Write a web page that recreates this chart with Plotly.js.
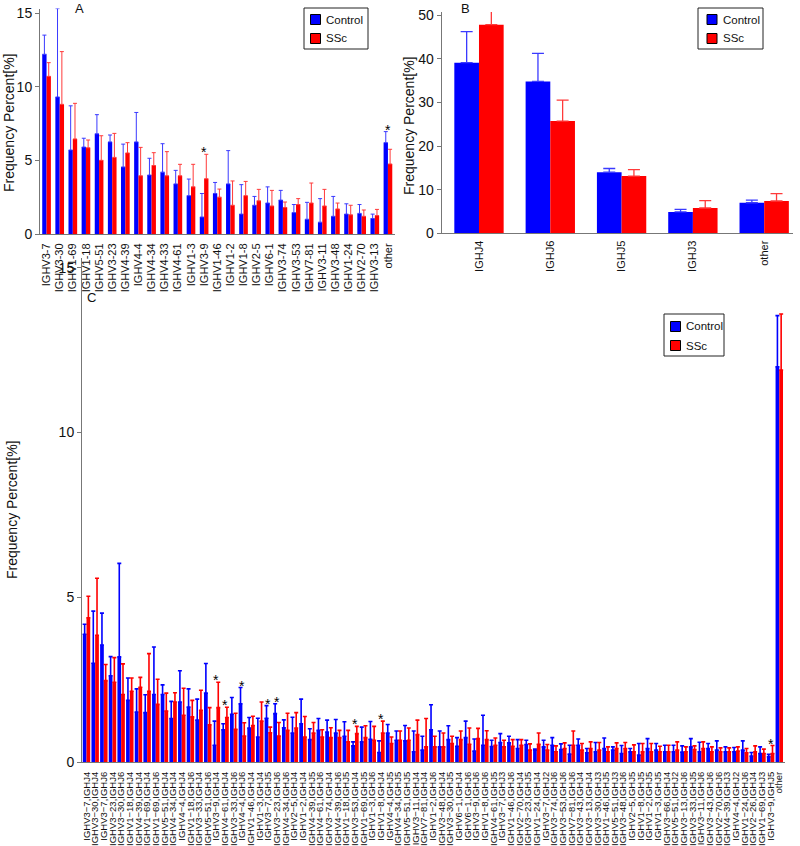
<!DOCTYPE html>
<html><head><meta charset="utf-8">
<script src="https://cdn.plot.ly/plotly-3.0.1.min.js"></script>
<style>html,body{margin:0;padding:0;background:#fff}#chart{width:800px;height:846px}</style>
</head><body><div id="chart"></div>
<script>
// ---------- Panel A: IGHV usage ----------
const catsA = ['IGHV3-7','IGHV3-30','IGHV1-69','IGHV1-18','IGHV5-51','IGHV3-23','IGHV4-39','IGHV4-4','IGHV4-34','IGHV4-33','IGHV4-61','IGHV1-3','IGHV3-9','IGHV1-46','IGHV1-2','IGHV1-8','IGHV2-5','IGHV6-1','IGHV3-74','IGHV3-53','IGHV7-81','IGHV3-11','IGHV3-48','IGHV1-24','IGHV2-70','IGHV3-13','other'];
const ctrlA = [12.2,9.3,5.7,5.9,6.8,6.25,4.55,6.25,4.0,4.2,3.4,2.6,1.15,2.75,3.4,1.35,1.95,2.1,2.3,1.45,1.0,0.8,1.2,1.35,1.4,1.05,6.2];
const ctrlAerr = [1.3,6.0,3.0,0.6,1.3,0.47,1.55,2.0,1.14,1.93,0.92,1.13,1.6,0.75,2.26,2.0,0.6,1.1,0.66,0.55,1.15,1.6,1.35,0.7,0.6,0.3,0.75];
const sscA = [10.7,8.8,6.45,5.85,5.0,5.2,5.5,3.95,4.65,3.95,3.95,3.2,3.75,2.5,1.95,2.6,2.25,1.9,1.8,2.0,2.1,1.9,1.7,1.3,1.2,1.25,4.75];
const sscAerr = [0.93,3.58,2.42,0.53,1.67,1.63,0.7,1.93,0.87,1.64,0.78,1.53,1.66,0.55,1.65,0.97,0.78,1.06,0.37,0.4,1.36,1.13,0.4,0.65,0.43,0.42,1.0];
const starsA = ['IGHV3-9','other'];

// ---------- Panel B: IGHJ usage ----------
const catsB = ['IGHJ4','IGHJ6','IGHJ5','IGHJ3','other'];
const ctrlB = [39.1,34.8,14.0,4.9,7.0];
const ctrlBerr = [7.1,6.4,0.85,0.6,0.6];
const sscB = [47.8,25.7,13.1,5.8,7.4];
const sscBerr = [3.7,4.8,1.5,1.7,1.7];
const starsB = ['IGHJ4'];

// ---------- Panel C: IGHV/IGHJ pairs ----------
const catsC = ['IGHV3−7,IGHJ4','IGHV3−30,IGHJ4','IGHV3−7,IGHJ6','IGHV3−23,IGHJ4','IGHV3−30,IGHJ6','IGHV1−18,IGHJ4','IGHV4−39,IGHJ4','IGHV1−69,IGHJ4','IGHV1−69,IGHJ6','IGHV5−51,IGHJ4',
'IGHV4−34,IGHJ4','IGHV4−4,IGHJ4','IGHV1−18,IGHJ6','IGHV3−33,IGHJ4','IGHV5−51,IGHJ6','IGHV3−9,IGHJ4','IGHV4−61,IGHJ4','IGHV3−33,IGHJ6','IGHV4−4,IGHJ6','IGHV1−46,IGHJ4',
'IGHV1−3,IGHJ4','IGHV3−7,IGHJ5','IGHV3−23,IGHJ6','IGHV4−34,IGHJ6','IGHV2−5,IGHJ4','IGHV1−2,IGHJ4','IGHV4−39,IGHJ5','IGHV4−61,IGHJ6','IGHV3−74,IGHJ4','IGHV4−39,IGHJ6',
'IGHV1−18,IGHJ5','IGHV3−53,IGHJ4','IGHV1−69,IGHJ5','IGHV1−3,IGHJ6','IGHV1−8,IGHJ4','IGHV4−4,IGHJ5','IGHV4−34,IGHJ5','IGHV5−51,IGHJ5','IGHV3−11,IGHJ4','IGHV7−81,IGHJ4',
'IGHV1−2,IGHJ6','IGHV3−48,IGHJ4','IGHV3−30,IGHJ5','IGHV6−1,IGHJ4','IGHV6−1,IGHJ6','IGHV3−9,IGHJ6','IGHV1−8,IGHJ6','IGHV4−61,IGHJ5','IGHV3−7,IGHJ3','IGHV1−46,IGHJ6',
'IGHV2−70,IGHJ4','IGHV3−23,IGHJ5','IGHV1−24,IGHJ4','IGHV3−7,IGHJ2','IGHV3−74,IGHJ6','IGHV3−53,IGHJ6','IGHV7−81,IGHJ6','IGHV3−43,IGHJ4','IGHV3−13,IGHJ4','IGHV3−30,IGHJ3',
'IGHV1−46,IGHJ5','IGHV5−51,IGHJ3','IGHV3−48,IGHJ6','IGHV2−5,IGHJ5','IGHV1−8,IGHJ5','IGHV1−2,IGHJ5','IGHV1−3,IGHJ5','IGHV3−66,IGHJ4','IGHV5−51,IGHJ2','IGHV3−13,IGHJ6',
'IGHV3−33,IGHJ5','IGHV3−11,IGHJ6','IGHV3−43,IGHJ6','IGHV2−70,IGHJ6','IGHV4−39,IGHJ3','IGHV4−4,IGHJ2','IGHV1−24,IGHJ6','IGHV2−26,IGHJ4','IGHV1−69,IGHJ3','IGHV3−9,IGHJ5','other'];
const ctrlC = [3.88,3.0,3.55,2.62,3.19,1.87,1.52,1.5,2.05,2.05,
1.32,1.82,1.67,1.27,2.09,0.51,0.98,1.45,1.77,1.03,
0.76,1.33,1.47,1.04,0.88,1.16,0.68,0.96,0.91,0.88,
0.78,0.49,0.61,0.69,0.29,0.88,0.66,0.64,0.31,0.36,
0.98,0.46,0.68,0.48,0.74,0.33,0.51,0.47,0.59,0.58,
0.41,0.53,0.36,0.46,0.51,0.38,0.24,0.51,0.28,0.31,
0.41,0.36,0.26,0.31,0.21,0.41,0.36,0.31,0.31,0.3,
0.46,0.31,0.41,0.36,0.31,0.31,0.36,0.18,0.26,0.16,12.0];
const ctrlCerr = [0.30,1.58,0.97,0.58,2.84,0.68,0.70,0.54,1.44,0.29,
0.52,0.95,0.55,0.64,0.90,0.73,0.18,0.51,0.49,0.32,
0.57,0.38,0.30,0.24,0.48,0.75,0.33,0.36,0.36,0.41,
0.44,0.12,0.45,0.54,0.35,0.26,0.28,0.47,0.63,0.42,
0.76,0.48,0.42,0.26,0.50,0.37,0.91,0.19,0.27,0.20,
0.27,0.13,0.03,0.20,0.23,0.17,0.27,0.19,0.13,0.28,
0.32,0.10,0.24,0.10,0.35,0.30,0.20,0.20,0.20,0.19,
0.25,0.29,0.15,0.28,0.15,0.13,0.28,0.11,0.20,0.07,1.55];
const sscC = [4.38,3.85,2.47,2.42,2.05,2.15,2.27,2.15,1.75,1.55,
1.82,1.42,1.37,1.57,1.13,1.65,1.35,0.99,0.79,1.11,
1.24,0.89,0.79,0.96,1.03,0.76,0.88,0.76,0.74,0.74,
0.61,0.86,0.74,0.66,0.88,0.56,0.66,0.66,0.83,0.46,
0.46,0.46,0.56,0.68,0.54,0.71,0.68,0.51,0.46,0.48,
0.51,0.36,0.54,0.36,0.31,0.41,0.51,0.36,0.41,0.36,
0.31,0.41,0.41,0.31,0.31,0.31,0.31,0.31,0.36,0.31,
0.38,0.41,0.31,0.31,0.31,0.33,0.28,0.31,0.26,0.26,11.9];
const sscCerr = [0.65,1.73,0.49,0.75,0.93,0.40,0.30,1.14,0.76,0.54,
0.28,0.82,0.50,0.61,0.52,0.77,0.31,0.49,0.40,0.28,
0.58,0.17,0.41,0.52,0.47,0.62,0.32,0.22,0.30,0.22,
0.35,0.22,0.36,0.42,0.36,0.20,0.28,0.37,0.44,0.86,
0.32,0.42,0.22,0.26,0.49,0.31,0.27,0.22,0.20,0.20,
0.17,0.19,0.34,0.17,0.18,0.17,0.43,0.20,0.20,0.23,
0.15,0.17,0.18,0.21,0.25,0.25,0.17,0.20,0.25,0.15,
0.11,0.20,0.15,0.12,0.12,0.13,0.13,0.18,0.13,0.24,1.7];
const starsC = ['IGHV3−9,IGHJ4','IGHV4−61,IGHJ4','IGHV4−4,IGHJ6','IGHV3−7,IGHJ5','IGHV3−23,IGHJ6','IGHV3−53,IGHJ4','IGHV1−8,IGHJ4','IGHV3−9,IGHJ5'];

const seriesNames = ['Control','SSc'];
const panelLetters = ['A','B','C'];
const yTitle = 'Frequency Percent[%]';

// ---------- styling ----------
const W = 800, H = 846;
const px = v => v / W, py = v => 1 - v / H;
const FONT = 'Arial, "Liberation Sans", Helvetica, sans-serif';
const BLUE = '#0000ff', RED = '#ff0000';
const zeros = n => new Array(n).fill(0);

function barPair(cats, c, cErr, s, sErr, xa, ya, w, errStyle) {
  const mk = (vals, err, color, off, name, ecol) => ({
    type: 'bar', x: cats, y: vals, name: name, xaxis: xa, yaxis: ya, showlegend: false,
    width: w, offset: off, cliponaxis: false,
    marker: {color: color, line: {width: 0}},
    error_y: {type: 'data', array: err, arrayminus: zeros(err.length), symmetric: false,
              color: ecol, thickness: errStyle.t, width: errStyle.w}
  });
  return [mk(c, cErr, BLUE, -w, seriesNames[0], errStyle.cb),
          mk(s, sErr, RED, 0, seriesNames[1], errStyle.cr)];
}

const data = [].concat(
  barPair(catsA, ctrlA, ctrlAerr, sscA, sscAerr, 'x', 'y', 0.33, {t:1, w:2, cb:'#3a3aff', cr:'#ff3a3a'}),
  barPair(catsB, ctrlB, ctrlBerr, sscB, sscBerr, 'x2', 'y2', 0.346, {t:1.3, w:6, cb:'#3a3aff', cr:'#ff3a3a'}),
  barPair(catsC, ctrlC, ctrlCerr, sscC, sscCerr, 'x3', 'y3', 0.43, {t:1.6, w:2, cb:'#0000ff', cr:'#ff0000'})
);

function xAxis(domain, range, anchor, fsize, gap) {
  return {domain: domain, range: range, anchor: anchor, type: 'category', showline: true,
    linecolor: '#777', linewidth: 1, ticks: 'outside', ticklen: gap, tickcolor: 'rgba(0,0,0,0)',
    tickangle: -90, showgrid: false, zeroline: false,
    tickmode: 'linear', tick0: 0, dtick: 1, automargin: false,
    tickfont: {family: FONT, size: fsize, color: '#111'}, fixedrange: true};
}
function yAxis(domain, range, anchor, tvals) {
  return {domain: domain, range: range, anchor: anchor, showline: true, linecolor: '#777', linewidth: 1,
    ticks: 'outside', ticklen: 4, tickcolor: '#777', showgrid: false, zeroline: false,
    tickmode: 'array', tickvals: tvals, automargin: false,
    tickfont: {family: FONT, size: 14, color: '#111'}, fixedrange: true};
}

// star annotations, placed on the data values
function starNotes(stars, cats, c, cErr, s, sErr, xr, yr, shift) {
  return stars.map(k => {
    const i = cats.indexOf(k);
    return {xref: xr, yref: yr, x: k, y: Math.max(c[i] + cErr[i], s[i] + sErr[i]),
      text: '*', showarrow: false, xanchor: 'center', yanchor: 'middle', yshift: shift,
      font: {family: FONT, size: 14, color: '#000'}};
  });
}
function paperText(x, y, text, size, angle) {
  return {xref: 'paper', yref: 'paper', x: px(x), y: py(y), text: text, textangle: angle || 0,
    showarrow: false, xanchor: 'center', yanchor: 'middle',
    font: {family: FONT, size: size, color: '#111'}};
}

// boxed legends (box, swatches, labels) for each panel
const shapes = [];
const legendNotes = [];
function addLegend(x0, y0, x1, y1, swX, rowY, textX) {
  shapes.push({type: 'rect', xref: 'paper', yref: 'paper', x0: px(x0), x1: px(x1), y0: py(y1), y1: py(y0),
    line: {color: '#222', width: 1}, fillcolor: '#fff', layer: 'above'});
  [BLUE, RED].forEach((col, k) => {
    shapes.push({type: 'rect', xref: 'paper', yref: 'paper', x0: px(swX), x1: px(swX + 10),
      y0: py(rowY[k] + 5), y1: py(rowY[k] - 5), line: {color: '#000', width: 1}, fillcolor: col, layer: 'above'});
    legendNotes.push({xref: 'paper', yref: 'paper', x: px(textX), y: py(rowY[k]), text: seriesNames[k],
      showarrow: false, xanchor: 'left', yanchor: 'middle', font: {family: FONT, size: 11.5, color: '#111'}});
  });
}
addLegend(304, 8, 368, 49, 310.5, [19.5, 38.5], 323.5);
addLegend(698, 8, 763, 49, 707, [19.5, 38.5], 720.5);
addLegend(664, 314, 724, 356, 670.5, [326.5, 345.5], 683.5);

const annotations = [].concat(
  starNotes(starsA, catsA, ctrlA, ctrlAerr, sscA, sscAerr, 'x', 'y', 2),
  starNotes(starsB, catsB, ctrlB, ctrlBerr, sscB, sscBerr, 'x2', 'y2', -1),
  starNotes(starsC, catsC, ctrlC, ctrlCerr, sscC, sscCerr, 'x3', 'y3', 2),
  [
    paperText(9, 123, yTitle, 14, -90),
    paperText(409, 126, yTitle, 14, -90),
    paperText(12, 510, yTitle, 14, -90),
    paperText(79, 8.5, panelLetters[0], 13),
    paperText(465, 8.5, panelLetters[1], 13),
    paperText(91, 298, panelLetters[2], 13)
  ],
  legendNotes
);

const layout = {
  width: W, height: H, margin: {l: 0, r: 0, t: 0, b: 0},
  paper_bgcolor: '#fff', plot_bgcolor: '#fff', barmode: 'overlay', showlegend: false,
  font: {family: FONT},
  xaxis: xAxis([px(40), px(394.5)], [-0.5, 26.5], 'y', 11, 4),
  yaxis: yAxis([py(234), py(8.6)], [0, 15.3], 'x', [0, 5, 10, 15]),
  xaxis2: xAxis([px(441.7), px(793)], [-0.523, 4.404], 'y2', 11, 2),
  yaxis2: yAxis([py(233.3), py(12)], [0, 50.7], 'x2', [0, 10, 20, 30, 40, 50]),
  xaxis3: xAxis([px(82), px(785)], [-0.52, 80.66], 'y3', 9.5, 5),
  yaxis3: yAxis([py(762), py(258)], [0, 15.3], 'x3', [0, 5, 10, 15]),
  shapes: shapes,
  annotations: annotations
};

Plotly.newPlot('chart', data, layout, {displayModeBar: false, staticPlot: true});
</script></body></html>
